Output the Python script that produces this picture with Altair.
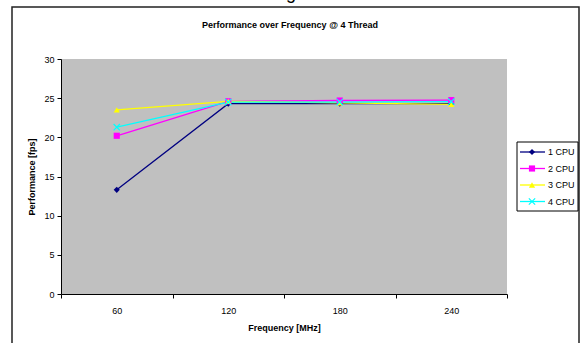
import altair as alt
import pandas as pd

freqs = ["60", "120", "180", "240"]
series_names = ["1 CPU", "2 CPU", "3 CPU", "4 CPU"]
cpu1 = [13.3, 24.3, 24.3, 24.3]
cpu2 = [20.2, 24.6, 24.7, 24.75]
cpu3 = [23.5, 24.6, 24.4, 24.2]
cpu4 = [21.3, 24.5, 24.5, 24.55]
colors = ["#000080", "#FF00FF", "#FFFF00", "#00FFFF"]
xshape = "M-1,-1L1,1M-1,1L1,-1"
shapes = ["diamond", "square", "triangle-up", xshape]

rows = []
for name, vals in zip(series_names, [cpu1, cpu2, cpu3, cpu4]):
    for f, v in zip(freqs, vals):
        rows.append({"freq": f, "perf": v, "series": name})
df = pd.DataFrame(rows)

FONT = "Liberation Sans"
W, H = 446, 235

xenc = alt.X("freq:N", sort=freqs, bandPosition=0.5,
             scale=alt.Scale(type="band", paddingInner=0, paddingOuter=0),
             axis=alt.Axis(title="Frequency [MHz]", labelAngle=0, tickBand="extent",
                           labelFont=FONT, labelFontSize=9, labelColor="#000",
                           titleFont=FONT, titleFontSize=9, titleFontWeight="bold",
                           titleColor="#000", titlePadding=8, labelPadding=8,
                           tickSize=4, tickColor="#000", domainColor="#000",
                           grid=False))
yenc = alt.Y("perf:Q", scale=alt.Scale(domain=[0, 30]),
             axis=alt.Axis(title="Performance [fps]", values=[0, 5, 10, 15, 20, 25, 30],
                           labelFont=FONT, labelFontSize=9, labelColor="#000",
                           titleFont=FONT, titleFontSize=9, titleFontWeight="bold",
                           titleColor="#000", titlePadding=7, labelPadding=3,
                           tickSize=4, tickColor="#000", domainColor="#000",
                           grid=False))
color = alt.Color("series:N", scale=alt.Scale(domain=series_names, range=colors), legend=None)
shape = alt.Shape("series:N", scale=alt.Scale(domain=series_names, range=shapes), legend=None)

base = alt.Chart(df)
lines = base.mark_line(strokeWidth=1.3).encode(x=xenc, y=yenc, color=color, detail="series:N")
pts = base.transform_filter(alt.datum.series != "4 CPU").mark_point(
    filled=True, size=38, opacity=1).encode(x=xenc, y=yenc, color=color, shape=shape)
pts_x = base.transform_filter(alt.datum.series == "4 CPU").mark_point(
    filled=False, size=40, opacity=1, strokeWidth=1.2).encode(x=xenc, y=yenc, color=color, shape=shape)
main = alt.layer(lines, pts, pts_x)

# legend
leg_df = pd.DataFrame({"series": series_names})
ly = alt.Y("series:N", sort=series_names,
           scale=alt.Scale(type="point", domain=series_names, range=[93, 142.5], padding=0), axis=None)
leg_line = alt.Chart(leg_df).mark_rule(strokeWidth=1.3).encode(
    x=alt.value(459), x2=alt.value(484), y=ly, color=color)
leg_pt = alt.Chart(leg_df).transform_filter(alt.datum.series != "4 CPU").mark_point(
    filled=True, size=38, opacity=1).encode(x=alt.value(471), y=ly, color=color, shape=shape)
leg_px = alt.Chart(leg_df).transform_filter(alt.datum.series == "4 CPU").mark_point(
    filled=False, size=40, opacity=1, strokeWidth=1.2).encode(x=alt.value(471), y=ly, color=color, shape=shape)
leg_txt = alt.Chart(leg_df).mark_text(align="left", baseline="middle", font=FONT, fontSize=9, color="#000").encode(
    x=alt.value(487), y=ly, text="series:N")
legend = alt.layer(leg_line, leg_pt, leg_px, leg_txt)

leg_box = alt.Chart(pd.DataFrame({"a": [0]})).mark_rect(fill="white", stroke="#000", strokeWidth=1).encode(
    x=alt.value(456), x2=alt.value(517), y=alt.value(83), y2=alt.value(152))
frame = alt.Chart(pd.DataFrame({"a": [0]})).mark_rect(fill=None, stroke="#222", strokeWidth=1.5, clip=False).encode(
    x=alt.value(-49), x2=alt.value(518), y=alt.value(-52), y2=alt.value(300))
title = alt.Chart(pd.DataFrame({"t": ["Performance over Frequency @ 4 Thread"]})).mark_text(
    font=FONT, fontSize=9, fontWeight="bold", color="#000", baseline="middle").encode(
    x=alt.value(W / 2 + 6), y=alt.value(-34), text="t:N")
frag = alt.Chart(pd.DataFrame({"t": ["g"]})).mark_text(
    font=FONT, fontSize=18, color="#000", baseline="alphabetic").encode(
    x=alt.value(230), y=alt.value(-60), text="t:N")

chart = alt.layer(frame, frag, title, main, leg_box, legend).resolve_scale(
    y="independent"
).properties(
    width=W, height=H,
    autosize=alt.AutoSizeParams(type="none"),
    padding={"left": 61, "top": 59, "right": 76, "bottom": 49},
    background="white",
).configure_view(fill="#C0C0C0", stroke=None)

chart.save("out.html", embed_options={"renderer": "svg", "actions": False})
